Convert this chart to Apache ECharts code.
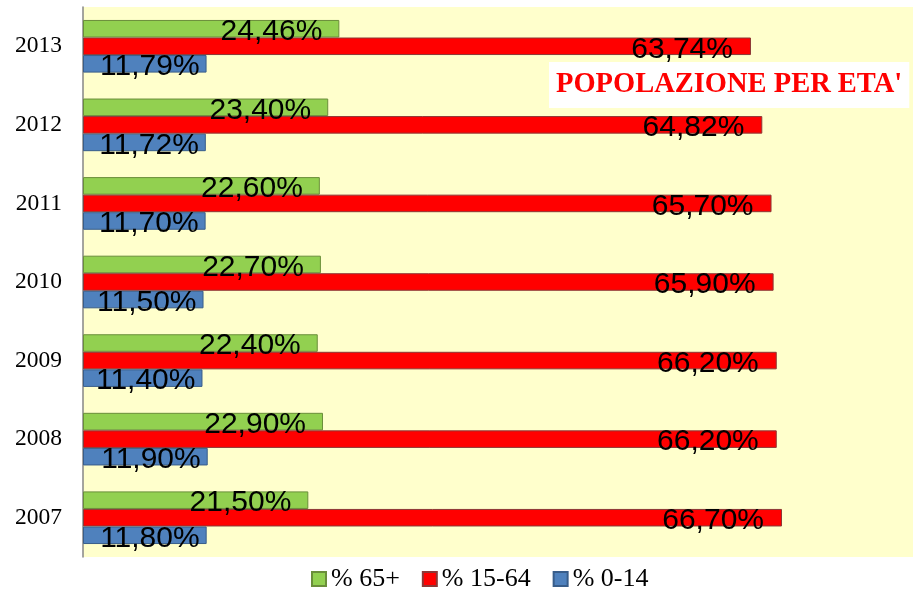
<!DOCTYPE html>
<html>
<head>
<meta charset="utf-8">
<script src="https://cdn.jsdelivr.net/npm/echarts@6/dist/echarts.min.js"></script>
<style>html,body{margin:0;padding:0;background:#fff}#c{width:913px;height:593px}</style>
</head>
<body>
<div id="c"></div>
<script>
var years = ['2007','2008','2009','2010','2011','2012','2013'];
var p0_14 = [11.80, 11.90, 11.40, 11.50, 11.70, 11.72, 11.79];
var p15_64 = [66.70, 66.20, 66.20, 65.90, 65.70, 64.82, 63.74];
var p65 = [21.50, 22.90, 22.40, 22.70, 22.60, 23.40, 24.46];
var seriesNames = ['% 65+', '% 15-64', '% 0-14'];
var titleText = "POPOLAZIONE PER ETA'";

function fmt(p){ return p.value.toFixed(2).replace('.', ',') + '%'; }
function lbl(dist){
  return {show:true, position:'insideRight', distance:dist, offset:[0,3], formatter:fmt,
    color:'#000', fontFamily:'Liberation Sans', fontSize:30};
}
var chart = echarts.init(document.getElementById('c'), null, {renderer:'canvas'});
chart.setOption({
  animation:false,
  title:{text:titleText, left:549, top:62, padding:[8,7,9,7], backgroundColor:'#fff',
    textStyle:{color:'#FF0000', fontFamily:'Liberation Serif', fontWeight:'bold', fontSize:28.5}},
  legend:{data:seriesNames, left:306, top:561, itemWidth:14, itemHeight:14, itemGap:22, icon:'rect',
    textStyle:{fontFamily:'Liberation Serif', fontSize:26, color:'#000'}},
  grid:{left:83, right:0, top:7, bottom:36, show:true, backgroundColor:'#FFFFCC', borderWidth:0},
  xAxis:{type:'value', min:0, max:79.2, show:false},
  yAxis:{type:'category', data:years,
    axisLine:{lineStyle:{color:'#868686', width:1.5}}, axisTick:{show:false},
    axisLabel:{fontFamily:'Liberation Serif', fontSize:23.5, color:'#000', margin:21, padding:[3,0,0,0]}},
  series:[
    {name:seriesNames[0], type:'bar', data:p65, barGap:'0%', barCategoryGap:'33%',
      itemStyle:{color:'#92D050', borderColor:'#6A8E3A', borderWidth:1}, label:lbl(17)},
    {name:seriesNames[1], type:'bar', data:p15_64,
      itemStyle:{color:'#FF0000', borderColor:'#8C3836', borderWidth:1}, label:lbl(18)},
    {name:seriesNames[2], type:'bar', data:p0_14,
      itemStyle:{color:'#4F81BD', borderColor:'#385D8A', borderWidth:1}, label:lbl(7)}
  ]
});
</script>
</body>
</html>
